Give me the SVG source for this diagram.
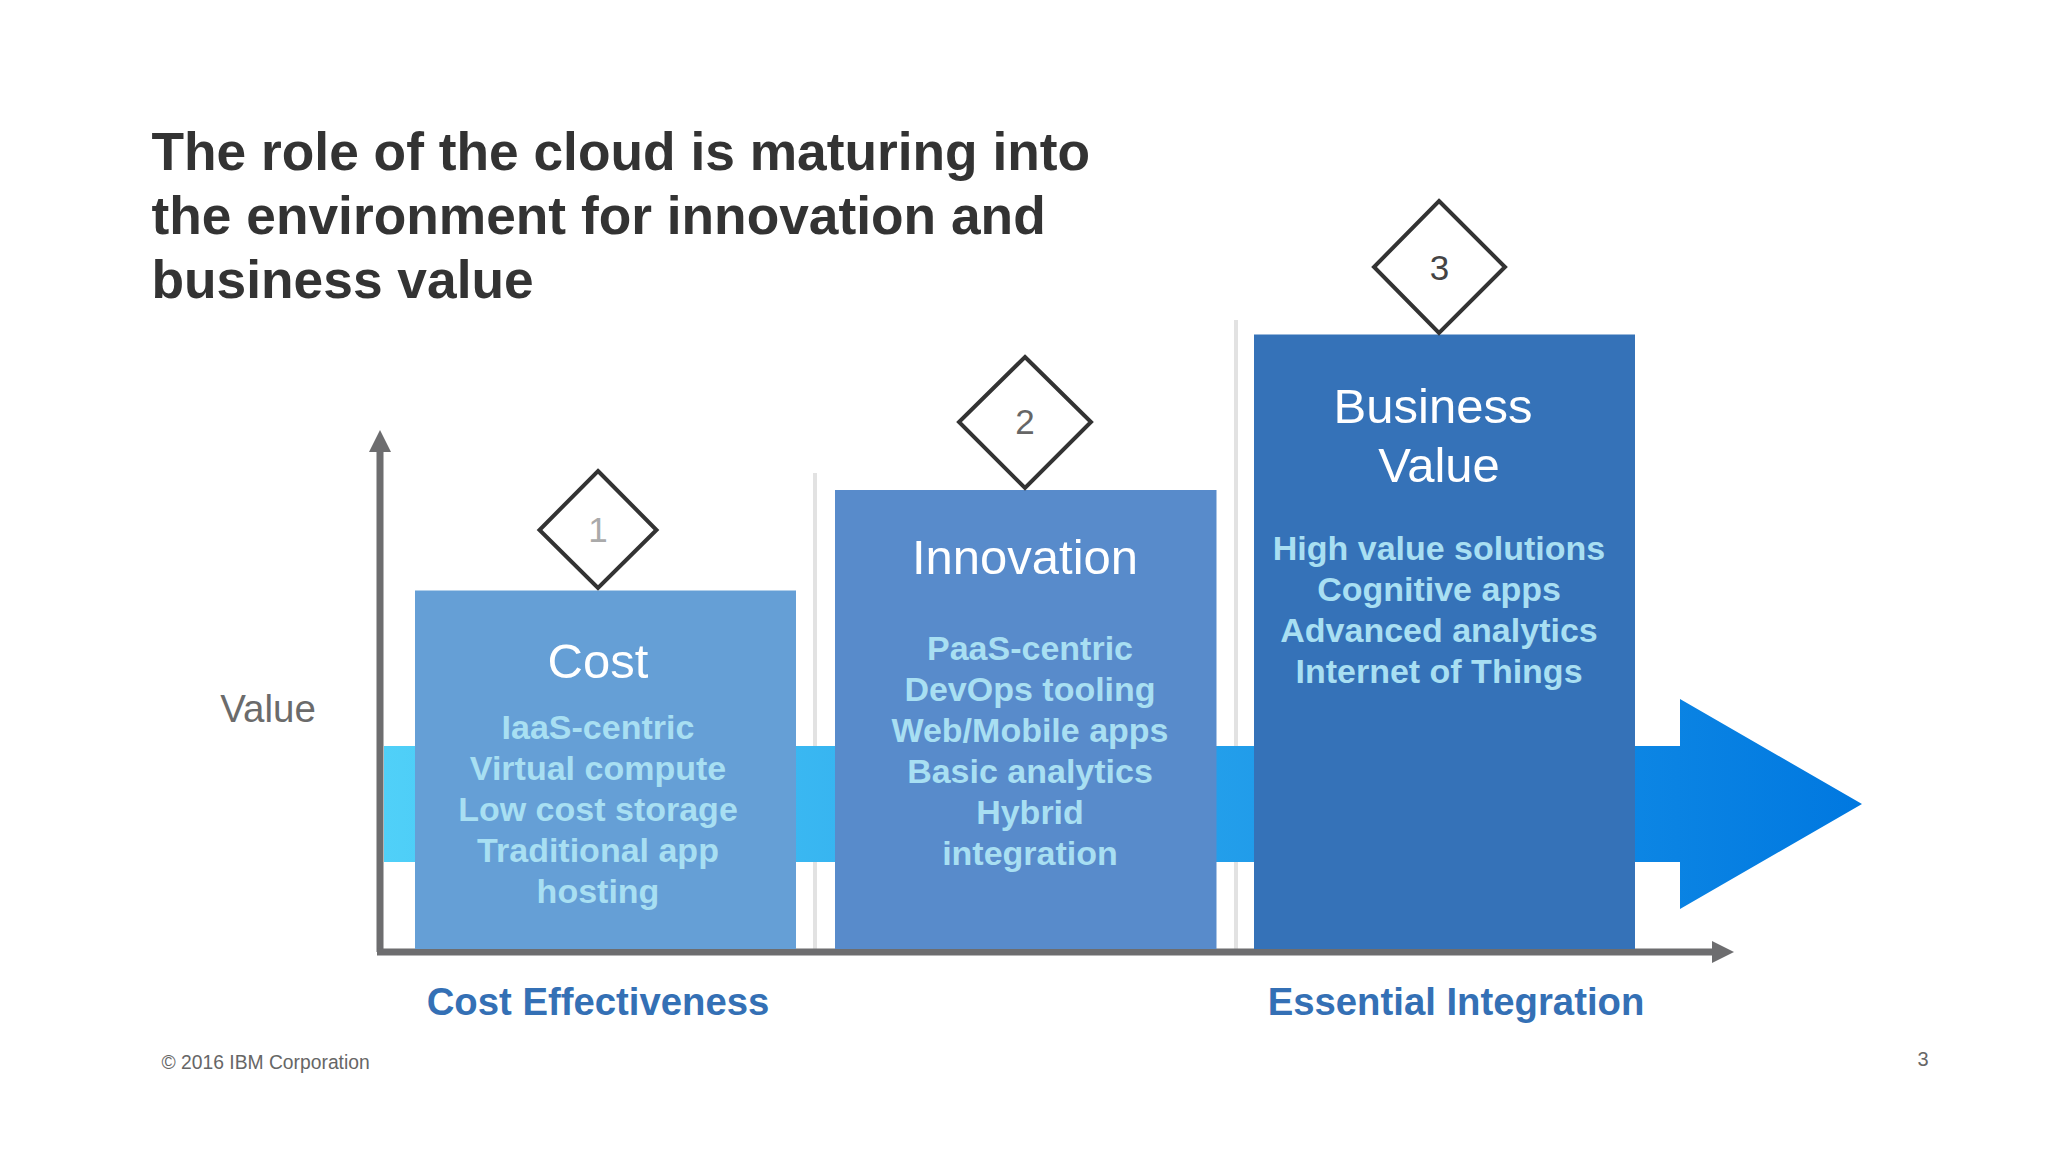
<svg xmlns="http://www.w3.org/2000/svg" width="2048" height="1152" viewBox="0 0 2048 1152">
<style>
text{font-family:"Liberation Sans",Arial,sans-serif;text-anchor:middle}
.title{font-size:53.3px;font-weight:bold;fill:#333;text-anchor:start}
.head{font-size:49px;fill:#fff}
.body{font-size:34px;font-weight:bold;fill:#a8dff2}
.foot{font-size:38.3px;font-weight:bold;fill:#3470b5}
.num{font-size:35px;fill:#555}
.dia{fill:#fff;stroke:#333;stroke-width:4}
</style>
<defs>
<linearGradient id="band" gradientUnits="userSpaceOnUse" x1="384" y1="0" x2="1861" y2="0">
<stop offset="0" stop-color="#50d0f8"/><stop offset="1" stop-color="#0078e0"/>
</linearGradient>
</defs>
<rect width="2048" height="1152" fill="#fff"/>
<g id="title">
<text class="title" x="151.500" y="170">The role of the cloud is maturing into</text>
<text class="title" x="151.500" y="234">the environment for innovation and</text>
<text class="title" x="151.500" y="298">business value</text>
</g>
<g id="separators">
<rect x="813" y="473" width="4" height="477" fill="#e2e2e2"/>
<rect x="1234" y="320" width="4" height="630" fill="#e2e2e2"/>
</g>
<path id="value-arrow" d="M384 746H1680V699L1862 804L1680 909V862H384Z" fill="url(#band)"/>
<g id="connectors">
<path d="M380 952V445" fill="none" stroke="#6d6d6f" stroke-width="7"/>
<path d="M380 430L391 452H369Z" fill="#6d6d6f"/>
<path d="M377 952H1716" fill="none" stroke="#6d6d6f" stroke-width="7"/>
<path d="M1734 952L1712 941V963Z" fill="#6d6d6f"/>
</g>
<g id="node-cost">
<rect x="415" y="590.500" width="381" height="358.500" fill="#659fd6"/>
<text class="head" x="598" y="677.500">Cost</text>
<text class="body" x="598" y="739">IaaS-centric</text>
<text class="body" x="598" y="780">Virtual compute</text>
<text class="body" x="598" y="821">Low cost storage</text>
<text class="body" x="598" y="862">Traditional app</text>
<text class="body" x="598" y="903">hosting</text>
</g>
<g id="node-innovation">
<rect x="835" y="490" width="381.500" height="459" fill="#588bcb"/>
<text class="head" x="1025" y="573.500">Innovation</text>
<text class="body" x="1030" y="660">PaaS-centric</text>
<text class="body" x="1030" y="701">DevOps tooling</text>
<text class="body" x="1030" y="742">Web/Mobile apps</text>
<text class="body" x="1030" y="783">Basic analytics</text>
<text class="body" x="1030" y="824">Hybrid</text>
<text class="body" x="1030" y="865">integration</text>
</g>
<g id="node-business-value">
<rect x="1254" y="334.500" width="381" height="614.500" fill="#3572b8"/>
<text class="head" x="1433" y="422.500">Business</text>
<text class="head" x="1439" y="481.500">Value</text>
<text class="body" x="1439" y="560">High value solutions</text>
<text class="body" x="1439" y="601">Cognitive apps</text>
<text class="body" x="1439" y="642">Advanced analytics</text>
<text class="body" x="1439" y="683">Internet of Things</text>
</g>
<g id="node-1">
<path class="dia" d="M598 471L656.500 530L598 588L539.500 530Z"/>
<text class="num" x="598" y="542" style="fill:#aaa">1</text>
</g>
<g id="node-2">
<path class="dia" d="M1025 357L1091 422L1025 488L959 422Z"/>
<text class="num" x="1025" y="434" style="fill:#666">2</text>
</g>
<g id="node-3">
<path class="dia" d="M1439 201L1505 267L1439 333L1374 267Z"/>
<text class="num" x="1439.500" y="280" style="fill:#444">3</text>
</g>
<text x="268" y="722" font-size="38.500" fill="#6b6b6b">Value</text>
<text class="foot" x="598" y="1015">Cost Effectiveness</text>
<text class="foot" x="1456" y="1015">Essential Integration</text>
<text x="161.500" y="1069" font-size="19.300" fill="#666" style="text-anchor:start">© 2016 IBM Corporation</text>
<text x="1923" y="1065.500" font-size="20" fill="#666">3</text>
</svg>
